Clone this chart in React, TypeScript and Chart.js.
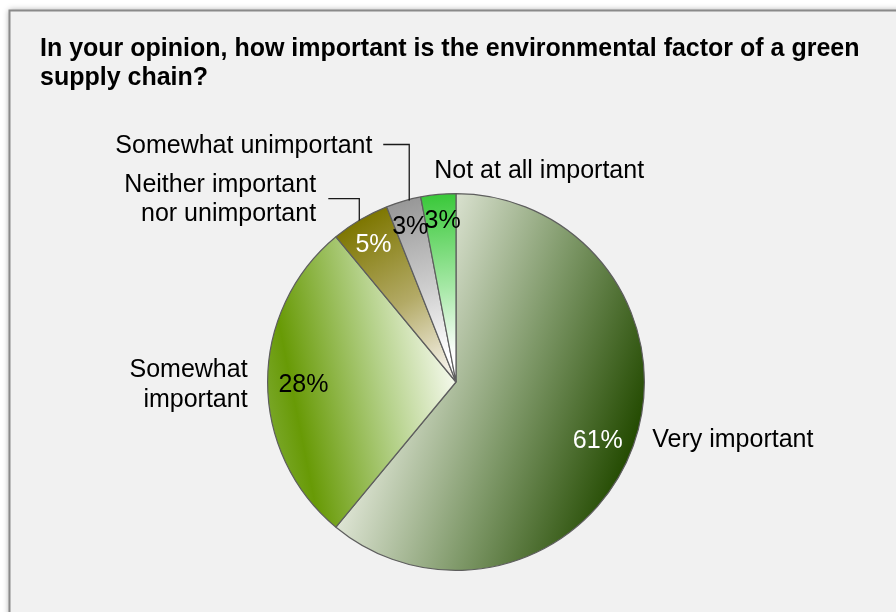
import React, { useEffect, useRef } from "react";
import { Chart, registerables } from "chart.js";

Chart.register(...registerables);

// ---------- data ----------
const titleLines = [
  "In your opinion, how important is the environmental factor of a green",
  "supply chain?",
];
const categories = [
  "Very important",
  "Somewhat important",
  "Neither important nor unimportant",
  "Somewhat unimportant",
  "Not at all important",
];
const categoryLines = [
  ["Very important"],
  ["Somewhat", "important"],
  ["Neither important", "nor unimportant"],
  ["Somewhat unimportant"],
  ["Not at all important"],
];
const percentages = [61, 28, 5, 3, 3];

// ---------- styles ----------
const FONT = '"Liberation Sans", Arial, Helvetica, sans-serif';
// gradient vectors in radius units relative to pie centre: [x0, y0, x1, y1]
const gradientVectors = [
  [-0.32, -0.11, 0.95, 0.32],
  [-1.0, 0.1, 0.0, -0.1],
  [-0.51, -0.86, 0.0, 0.0],
  [-0.28, -0.96, 0.0, 0.0],
  [-0.09, -1.0, 0.0, 0.0],
];
const gradientStops: [number, string][][] = [
  [[0, "#dce3d2"], [0.5, "#7e9868"], [1, "#234a00"]],
  [[0, "#78a626"], [0.14, "#689a06"], [0.6, "#b3d087"], [1, "#f8fbf1"]],
  [[0, "#7d7600"], [0.5, "#b3aa66"], [0.9, "#f2eee2"], [1, "#f6f4ec"]],
  [[0, "#979797"], [0.5, "#d0d0d0"], [0.85, "#ffffff"], [1, "#ffffff"]],
  [[0, "#38c838"], [0.5, "#a6e8a6"], [0.85, "#ffffff"], [1, "#ffffff"]],
];
const valueColors = ["#ffffff", "#000000", "#ffffff", "#000000", "#000000"];
const valueRadius = [0.8, 0.81, 0.86, 0.87, 0.87];
const valueShift = [[0, 8], [0, 3], [0, 3], [0, 3], [2, 2]];
// label layout relative to the slice's outer mid point
const labelLayouts = [
  { dx: 19, dy: -6, align: "left", lineH: 30, leader: [] as number[][] },
  { dx: -20, dy: -12, align: "right", lineH: 30, leader: [] as number[][] },
  { dx: -44, dy: -35, align: "right", lineH: 29, leader: [[-0.8, 0.7], [-0.8, -21.3], [-31.8, -21.3]] },
  { dx: -31, dy: -55, align: "right", lineH: 30, leader: [[5.8, -0.6], [5.8, -56.6], [-20.2, -56.6]] },
  { dx: -4, dy: -23, align: "left", lineH: 30, leader: [] as number[][] },
];

const backgroundPlugin = {
  id: "bgBox",
  beforeDraw(chart: any) {
    const ctx = chart.ctx;
    ctx.save();
    ctx.fillStyle = "#ffffff";
    ctx.fillRect(0, 0, chart.width, chart.height);
    ctx.shadowColor = "rgba(0,0,0,0.35)";
    ctx.shadowBlur = 6;
    ctx.shadowOffsetX = -1;
    ctx.shadowOffsetY = -1;
    ctx.fillStyle = "#f1f1f1";
    ctx.fillRect(9.5, 10.5, chart.width + 20, chart.height + 20);
    ctx.shadowColor = "transparent";
    ctx.strokeStyle = "#8a8a8a";
    ctx.lineWidth = 2;
    ctx.strokeRect(9.5, 10.5, chart.width + 20, chart.height + 20);
    // title
    ctx.fillStyle = "#000000";
    ctx.font = `bold 25px ${FONT}`;
    ctx.textAlign = "left";
    ctx.textBaseline = "alphabetic";
    titleLines.forEach((t, i) => ctx.fillText(t, 40, 56 + i * 29));
    ctx.restore();
  },
};

const labelPlugin = {
  id: "pieLabels",
  afterDatasetsDraw(chart: any) {
    const ctx = chart.ctx;
    const meta = chart.getDatasetMeta(0);
    const data = chart.data.datasets[0].data as number[];
    const total = data.reduce((s, v) => s + v, 0);
    ctx.save();
    ctx.font = `25px ${FONT}`;
    ctx.textBaseline = "middle";
    meta.data.forEach((el: any, i: number) => {
      const p = el.getProps(["x", "y", "startAngle", "endAngle", "outerRadius"], true);
      const mid = (p.startAngle + p.endAngle) / 2;
      const cos = Math.cos(mid);
      const sin = Math.sin(mid);
      // value label
      const vr = p.outerRadius * valueRadius[i];
      ctx.fillStyle = valueColors[i];
      ctx.textAlign = "center";
      ctx.fillText(
        `${Math.round((data[i] / total) * 100)}%`,
        p.x + cos * vr + valueShift[i][0],
        p.y + sin * vr + valueShift[i][1]
      );
      // category label
      const ex = p.x + cos * p.outerRadius;
      const ey = p.y + sin * p.outerRadius;
      const lay = labelLayouts[i];
      if (lay.leader.length) {
        ctx.strokeStyle = "#1a1a1a";
        ctx.lineWidth = 1.3;
        ctx.beginPath();
        lay.leader.forEach((pt, k) => {
          const X = ex + pt[0];
          const Y = ey + pt[1];
          if (k === 0) ctx.moveTo(X, Y);
          else ctx.lineTo(X, Y);
        });
        ctx.stroke();
      }
      ctx.fillStyle = "#000000";
      ctx.textAlign = lay.align;
      categoryLines[i].forEach((line, k) => {
        ctx.fillText(line, ex + lay.dx, ey + lay.dy + k * lay.lineH);
      });
    });
    ctx.restore();
  },
};

export default function App() {
  const ref = useRef<HTMLCanvasElement | null>(null);
  useEffect(() => {
    if (!ref.current) return;
    const chart = new Chart(ref.current, {
      type: "pie",
      data: {
        labels: categories,
        datasets: [
          {
            data: percentages,
            borderColor: "#5e5e5e",
            borderWidth: 1.2,
            backgroundColor: (c: any) => {
              const chart = c.chart;
              const i = c.dataIndex;
              const stops = gradientStops[i] || gradientStops[0];
              const a = chart.chartArea;
              if (!a) return stops[0][1];
              const cx = (a.left + a.right) / 2;
              const cy = (a.top + a.bottom) / 2;
              const r = Math.min(a.right - a.left, a.bottom - a.top) / 2;
              const v = gradientVectors[i];
              const g = chart.ctx.createLinearGradient(
                cx + v[0] * r,
                cy + v[1] * r,
                cx + v[2] * r,
                cy + v[3] * r
              );
              stops.forEach(([o, col]) => g.addColorStop(o, col));
              return g;
            },
          },
        ],
      },
      options: {
        responsive: false,
        animation: false,
        events: [],
        layout: { padding: { left: 267, right: 251, top: 193, bottom: 41 } },
        plugins: {
          legend: { display: false },
          tooltip: { enabled: false },
          title: { display: false },
        },
      },
      plugins: [backgroundPlugin, labelPlugin],
    });
    return () => chart.destroy();
  }, []);
  return (
    <div style={{ position: "fixed", left: 0, top: 0, width: 896, height: 612 }}>
      <canvas ref={ref} width={896} height={612} style={{ display: "block" }} />
    </div>
  );
}
